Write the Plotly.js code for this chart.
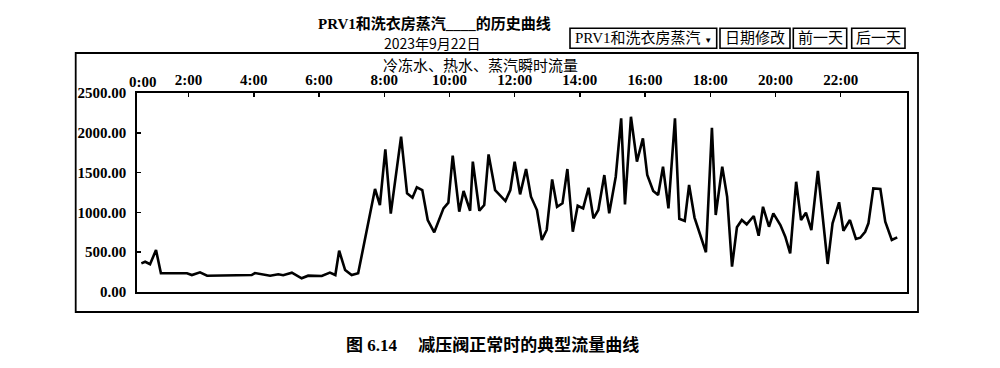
<!DOCTYPE html>
<html>
<head>
<meta charset="utf-8">
<script src="https://cdn.plot.ly/plotly-3.0.1.min.js"></script>
<style>html,body{margin:0;padding:0;background:#fff;}#chart{width:1000px;height:368px;}</style>
</head>
<body>
<div id="chart"></div>
<script>
// ---- data ----
const dateStr = '2023-09-22';
const times = ['0:33','0:40','0:49','1:00','1:09','1:57','2:06','2:21','2:34','3:56','4:02','4:21','4:30','4:45','4:54','5:10','5:28','5:40','6:05','6:20','6:30','6:37','6:48','7:00','7:12','7:43','7:52','8:02','8:12','8:31','8:42','8:52','9:00','9:10','9:20','9:32','9:49','9:58','10:06','10:18','10:26','10:38','10:43','10:55','11:04','11:12','11:24','11:43','11:52','12:00','12:10','12:21','12:30','12:41','12:50','12:59','13:09','13:18','13:28','13:37','13:47','13:56','14:06','14:16','14:25','14:34','14:45','14:54','15:06','15:16','15:23','15:34','15:45','15:56','16:04','16:15','16:24','16:33','16:43','16:55','17:03','17:13','17:21','17:31','17:41','17:52','18:03','18:10','18:22','18:31','18:40','18:49','18:58','19:07','19:20','19:29','19:37','19:48','19:56','20:09','20:18','20:27','20:38','20:47','20:56','21:06','21:18','21:36','21:45','21:57','22:05','22:17','22:28','22:36','22:45','22:51','23:00','23:13','23:22','23:34','23:44'];
const flow = [360,380,350,527,235,235,213,247,205,213,238,213,205,222,210,243,172,205,201,243,213,519,276,213,235,1294,1093,1792,985,1951,1240,1185,1315,1281,904,750,1051,1122,1712,1009,1269,1021,1637,1021,1093,1729,1281,1143,1281,1637,1227,1545,1197,1030,653,779,1415,1071,1114,1545,757,1084,1051,1310,925,1030,1469,988,1448,2181,1101,2202,1637,1930,1470,1270,1218,1574,1051,2181,920,893,1344,935,716,499,2064,967,1574,1197,318,813,904,850,955,707,1071,820,988,842,695,486,1385,904,996,779,1520,352,863,1127,770,904,666,682,757,863,1302,1294,883,653,687];
const yTicks = [0,500,1000,1500,2000,2500];
const xTickHours = [2,4,6,8,10,12,14,16,18,20,22];
const xTickText = ['2:00','4:00','6:00','8:00','10:00','12:00','14:00','16:00','18:00','20:00','22:00'];
const firstTickText = '0:00';
const titleLine1 = 'PRV1和洗衣房蒸汽____的历史曲线';
const titleLine2 = '2023年9月22日';
const subTitle = '冷冻水、热水、蒸汽瞬时流量';
const buttons = ['PRV1和洗衣房蒸汽 <span style="font-size:8px">▼</span>','日期修改','前一天','后一天'];
const caption = '图 6.14　 减压阀正常时的典型流量曲线';

// ---- helpers ----
function pad(n){return (n<10?'0':'')+n;}
function toDate(t){const p=t.split(':');return dateStr+' '+pad(+p[0])+':'+p[1];}
const W=1000,H=368, L=137, R=907, T=93, B=292;
function px(x){return (x-L)/(R-L);}
function py(y){return (B-y)/(B-T);}

const FONT = 'Liberation Serif, Noto Sans CJK SC, serif';
const SANS = 'Noto Sans CJK SC, Noto Sans, sans-serif';
const ann = (text,x,y,size,extra)=>Object.assign({text:text,x:px(x),y:py(y),xref:'paper',yref:'paper',showarrow:false,xanchor:'center',yanchor:'middle',font:{family:FONT,size:size,color:'#000'}},extra||{});

const boxes = [[570,716.7],[720,790],[793.3,846.7],[851.7,905]];
const shapes = [
  {type:'rect',xref:'paper',yref:'paper',x0:px(75.7),x1:px(918),y0:py(312),y1:py(53),line:{color:'#000',width:1.8}}
];
const annotations = [
  ann('<b>'+titleLine1+'</b>',434,24,15),
  ann(titleLine2,432,43,14,{font:{family:SANS,size:14,color:'#000'}}),
  ann(subTitle,480,65,15),
  ann('<b>'+firstTickText+'</b>',143,82,15),
  ann('<b>'+caption+'</b>',492,345,17)
];
boxes.forEach((b,i)=>{
  shapes.push({type:'rect',xref:'paper',yref:'paper',x0:px(b[0]),x1:px(b[1]),y0:py(48.3),y1:py(28.3),line:{color:'#000',width:1.6}});
  annotations.push(ann(buttons[i],(b[0]+b[1])/2,38.5,15));
});

const trace = {
  x: times.map(toDate),
  y: flow,
  type:'scatter', mode:'lines',
  line:{color:'#000',width:2.6},
  hoverinfo:'skip'
};

const layout = {
  width:W,height:H,
  margin:{l:L,r:W-R,t:T,b:H-B,pad:0},
  paper_bgcolor:'#fff',plot_bgcolor:'#fff',
  showlegend:false,
  xaxis:{
    type:'date', side:'top',
    range:[dateStr+' 00:25', '2023-09-23 00:02'],
    tickvals: xTickHours.map(h=>dateStr+' '+pad(h)+':00'),
    ticktext: xTickText.map(t=>'<b>'+t+'</b>'),
    ticks:'inside', ticklen:4, tickwidth:1.5, tickcolor:'#000',
    showgrid:false, zeroline:false,
    showline:true, linecolor:'#000', linewidth:1.8, mirror:true,
    tickfont:{family:FONT,size:15,color:'#000'}
  },
  yaxis:{
    range:[0,2500],
    tickvals:yTicks,
    ticktext:yTicks.map(v=>'<b>'+v.toFixed(2)+'</b>'),
    ticks:'inside', ticklen:4, tickwidth:1.5, tickcolor:'#000',
    ticklabelstandoff:6,
    showgrid:false, zeroline:false,
    showline:true, linecolor:'#000', linewidth:1.8, mirror:true,
    tickfont:{family:FONT,size:15,color:'#000'}
  },
  shapes:shapes,
  annotations:annotations
};
Plotly.newPlot('chart',[trace],layout,{staticPlot:true,displayModeBar:false});
</script>
</body>
</html>
